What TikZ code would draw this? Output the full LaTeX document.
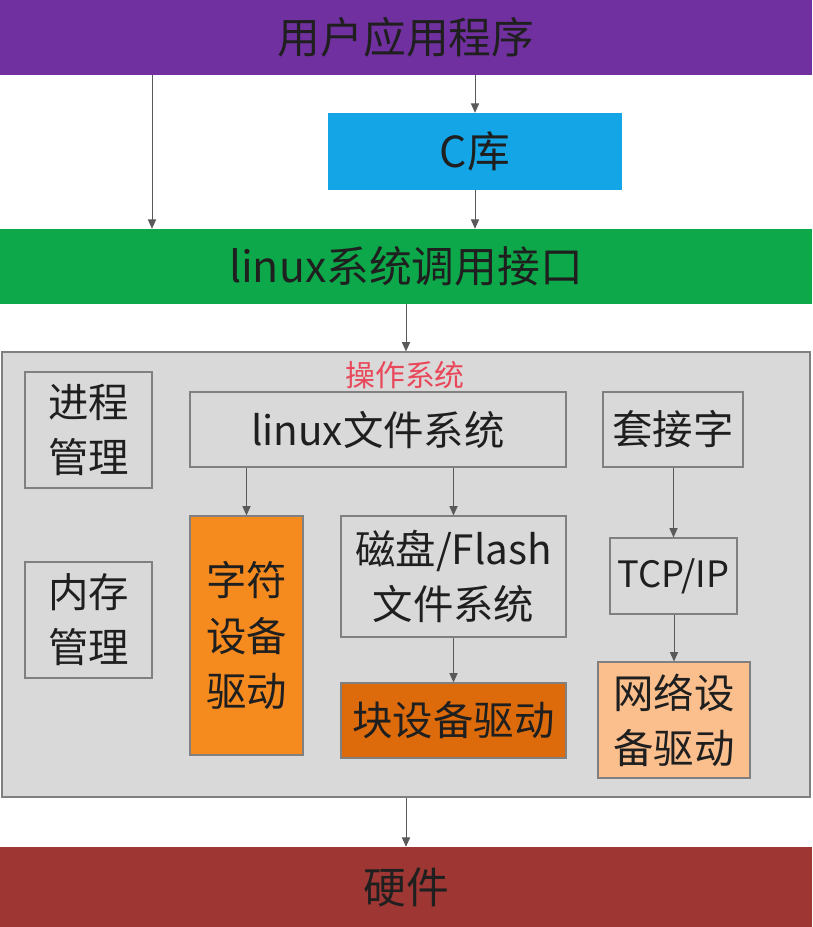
\documentclass[tikz,border=0pt]{standalone}
\usepackage{fontspec}
\setmainfont{Noto Sans CJK SC}
\usetikzlibrary{arrows.meta}
\definecolor{appcol}{RGB}{112,48,160}
\definecolor{clibcol}{RGB}{20,165,230}
\definecolor{syscol}{RGB}{13,168,74}
\definecolor{oscol}{RGB}{217,217,217}
\definecolor{chrcol}{RGB}{245,138,31}
\definecolor{blkcol}{RGB}{222,107,11}
\definecolor{netcol}{RGB}{251,191,142}
\definecolor{hwcol}{RGB}{158,55,51}
\definecolor{labelcol}{RGB}{232,72,90}
\begin{document}
\begin{tikzpicture}[x=0.03cm,y=-0.03cm]
        % Styles
        \tikzstyle{layer}=[inner sep=0pt,text=black!88,font=\fontsize{36.5}{46}\selectfont]
        \tikzstyle{module}=[inner sep=0pt,text=black!88,font=\fontsize{34.5}{47}\selectfont,draw=black!50,line width=1pt,align=center]
        \tikzstyle{call}=[draw=black!65,line width=0.8pt,-{Triangle[width=7pt,length=8pt]}]
        \useasboundingbox (0,0) rectangle (812,927);
        %layers
        \node[layer,fill=appcol,minimum width=24.36cm,minimum height=2.25cm] (app) at (406,37.5) {用户应用程序};
        \node[layer,fill=clibcol,minimum width=8.82cm,minimum height=2.31cm] (clib) at (475,151.5) {C库};
        \node[layer,fill=syscol,minimum width=24.36cm,minimum height=2.25cm] (sys) at (406,266.5) {linux系统调用接口};
        \node[draw=black!50,line width=1pt,fill=oscol,minimum width=24.24cm,minimum height=13.35cm] (os) at (406,574.5) {};
        \node[text=labelcol,font=\fontsize{25.5}{28}\selectfont] (oslabel) at (405,375) {操作系统};
        \node[layer,fill=hwcol,minimum width=24.36cm,minimum height=2.4cm] (hw) at (406,887) {硬件};
        %modules
        \node[module,minimum width=3.81cm,minimum height=3.48cm] (proc) at (88.5,430) {进程\\管理};
        \node[module,minimum width=3.81cm,minimum height=3.48cm] (mem) at (88.5,620) {内存\\管理};
        \node[module,minimum width=11.28cm,minimum height=2.25cm] (vfs) at (378,429.5) {linux文件系统};
        \node[module,minimum width=4.2cm,minimum height=2.25cm] (sock) at (673,429.5) {套接字};
        \node[module,fill=chrcol,minimum width=3.39cm,minimum height=7.17cm] (chr) at (246.5,635.5) {字符\\设备\\驱动};
        \node[module,minimum width=6.75cm,minimum height=3.63cm] (disk) at (453.5,576.5) {磁盘/Flash\\文件系统};
        \node[module,fill=blkcol,minimum width=6.75cm,minimum height=2.25cm] (blk) at (453.5,720.5) {块设备驱动};
        \node[module,font=\fontsize{31}{40}\selectfont,minimum width=3.81cm,minimum height=2.28cm] (tcp) at (673.5,576) {TCP/IP};
        \node[module,fill=netcol,minimum width=4.56cm,minimum height=3.48cm] (net) at (674,720) {网络设\\备驱动};
        %calls
        \coordinate (direct) at (152,0);
        \draw[call] (app.south -| direct) -- (sys.north -| direct);
        \draw[call] (app.south -| clib.north) -- (clib.north);
        \draw[call] (clib.south) -- (clib.south |- sys.north);
        \draw[call] (sys.south) -- (os.north);
        \draw[call] (os.south) -- (hw.north);
        \foreach \from/\to in {vfs/chr,vfs/disk,disk/blk,sock/tcp,tcp/net}
            \draw[call] (\from.south -| \to.north) -- (\to.north);
    \end{tikzpicture}
\end{document}
